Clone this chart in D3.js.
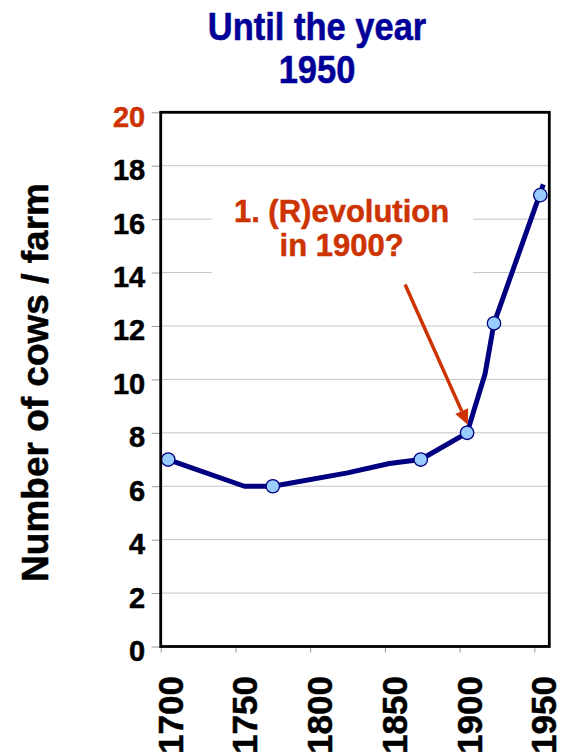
<!DOCTYPE html>
<html>
<head>
<meta charset="utf-8">
<script src="https://cdn.jsdelivr.net/npm/d3@7"></script>
<style>
  html, body { margin: 0; padding: 0; background: #fff; }
  svg { display: block; font-family: "Liberation Sans", Arial, Helvetica, sans-serif; font-weight: bold; }
  svg text { stroke-width: 0.5px; stroke-linejoin: round; }
</style>
</head>
<body>
<svg id="chart" width="562" height="756"></svg>
<script>
// ---- data ----
const titleLines = ["Until the year", "1950"];
const yAxisTitle = "Number of cows / farm";
const xTickValues = [1700, 1750, 1800, 1850, 1900, 1950];
const yTickValues = [0, 2, 4, 6, 8, 10, 12, 14, 16, 18, 20];

// smoothed trend line (more vertices than markers)
const lineYears  = [1705, 1756, 1775, 1825, 1853, 1874, 1905, 1917, 1923, 1956];
const lineValues = [7.0, 6.0, 6.0, 6.5, 6.85, 7.0, 8.0, 10.2, 12.1, 17.3];

// observed points (markers)
const markerYears  = [1705, 1775, 1874, 1905, 1923, 1954];
const markerValues = [7.0, 6.0, 7.0, 8.0, 12.1, 16.9];

// annotation
const annotationLines = ["1. (R)evolution", "in 1900?"];
const annotationAt = { year: 1821, value: 15.9 };
const arrowFrom = { year: 1863.5, value: 13.55 };
const arrowTo   = { year: 1905.5, value: 8.3 };

// ---- layout ----
const svg = d3.select("#chart");
const plot = { left: 160.7, right: 549.3, top: 112.3, bottom: 646.5 };

const x = d3.scaleLinear().domain([1700, 1960]).range([plot.left, plot.right]);
const y = d3.scaleLinear().domain([0, 20]).range([plot.bottom, plot.top]);

const navy = "#000080";
const orange = "#cc3300";
const titleBlue = "#000099";

// title
const title = svg.append("g").attr("transform", "translate(317,0)");
titleLines.forEach((t, i) => {
  title.append("text")
    .attr("transform", `translate(0,${[39.5, 83][i]}) scale(1,1.14)`)
    .attr("text-anchor", "middle")
    .attr("font-size", 34.5)
    .attr("fill", titleBlue).attr("stroke", titleBlue)
    .text(t);
});

// gridlines
svg.append("g")
  .selectAll("line")
  .data(yTickValues.filter(v => v > 0 && v < 20))
  .join("line")
  .attr("x1", plot.left).attr("x2", plot.right)
  .attr("y1", d => y(d)).attr("y2", d => y(d))
  .attr("stroke", "#c4c4c4").attr("stroke-width", 1);

// y axis ticks + labels
const yAxis = d3.axisLeft(y).tickValues(yTickValues).tickSize(9).tickPadding(0).tickFormat(d3.format("d"));
const gy = svg.append("g").attr("transform", `translate(${plot.left},0)`).call(yAxis);
gy.select(".domain").remove();
gy.selectAll(".tick line").attr("stroke", "#9a9a9a");
gy.selectAll(".tick text")
  .attr("x", -15.5).attr("dy", null).attr("y", 14)
  .attr("font-size", 29).attr("font-family", null).attr("font-weight", "bold")
  .attr("fill", d => d === 20 ? orange : "#000")
  .attr("stroke", d => d === 20 ? orange : "#000");

// x axis ticks + labels
const xAxis = d3.axisBottom(x).tickValues(xTickValues).tickSize(6).tickFormat(d3.format("d"));
const gx = svg.append("g").attr("transform", `translate(0,${plot.bottom})`).call(xAxis);
gx.select(".domain").remove();
gx.selectAll(".tick line").attr("stroke", "#9a9a9a");
gx.selectAll(".tick text")
  .attr("y", null).attr("dy", null)
  .attr("transform", "translate(21.5,29.5) rotate(-90)")
  .attr("text-anchor", "end")
  .attr("x", 0)
  .attr("font-size", 35).attr("font-family", null).attr("font-weight", "bold")
  .attr("fill", "#000").attr("stroke", "#000");

// y axis title
svg.append("text")
  .attr("transform", "translate(48,382.5) rotate(-90)")
  .attr("text-anchor", "middle")
  .attr("font-size", 37)
  .attr("fill", "#000").attr("stroke", "#000")
  .text(yAxisTitle);

// annotation box + text
svg.append("rect")
  .attr("x", 211.7).attr("y", 180)
  .attr("width", 261.3).attr("height", 100)
  .attr("fill", "#fff");
annotationLines.forEach((t, i) => {
  svg.append("text")
    .attr("x", x(annotationAt.year))
    .attr("y", y(annotationAt.value) + i * 34.3)
    .attr("text-anchor", "middle")
    .attr("font-size", 31)
    .attr("fill", orange).attr("stroke", orange)
    .text(t);
});

// trend line
const lineData = lineYears.map((yr, i) => [yr, lineValues[i]]);
svg.append("path")
  .datum(lineData)
  .attr("d", d3.line().x(d => x(d[0])).y(d => y(d[1])))
  .attr("fill", "none")
  .attr("stroke", navy)
  .attr("stroke-width", 5)
  .attr("stroke-linejoin", "round")
  .attr("stroke-linecap", "butt");

// arrow
const ax1 = x(arrowFrom.year), ay1 = y(arrowFrom.value);
const ax2 = x(arrowTo.year), ay2 = y(arrowTo.value);
const len = Math.hypot(ax2 - ax1, ay2 - ay1);
const ux = (ax2 - ax1) / len, uy = (ay2 - ay1) / len;
const headLen = 15, headHalf = 7;
const bx = ax2 - ux * headLen, by = ay2 - uy * headLen;
svg.append("line")
  .attr("x1", ax1).attr("y1", ay1).attr("x2", bx).attr("y2", by)
  .attr("stroke", orange).attr("stroke-width", 3.5);
svg.append("path")
  .attr("d", `M${ax2},${ay2}L${bx - uy * headHalf},${by + ux * headHalf}L${bx + uy * headHalf},${by - ux * headHalf}Z`)
  .attr("fill", orange);

// markers
const markerData = markerYears.map((yr, i) => [yr, markerValues[i]]);
svg.append("g")
  .selectAll("circle")
  .data(markerData)
  .join("circle")
  .attr("cx", d => x(d[0]))
  .attr("cy", d => y(d[1]))
  .attr("r", 6.7)
  .attr("fill", "#99ccff")
  .attr("stroke", navy)
  .attr("stroke-width", 1.3);

// frame
svg.append("rect")
  .attr("x", plot.left).attr("y", plot.top)
  .attr("width", plot.right - plot.left).attr("height", plot.bottom - plot.top)
  .attr("fill", "none").attr("stroke", "#000").attr("stroke-width", 2.8);
</script>
</body>
</html>
